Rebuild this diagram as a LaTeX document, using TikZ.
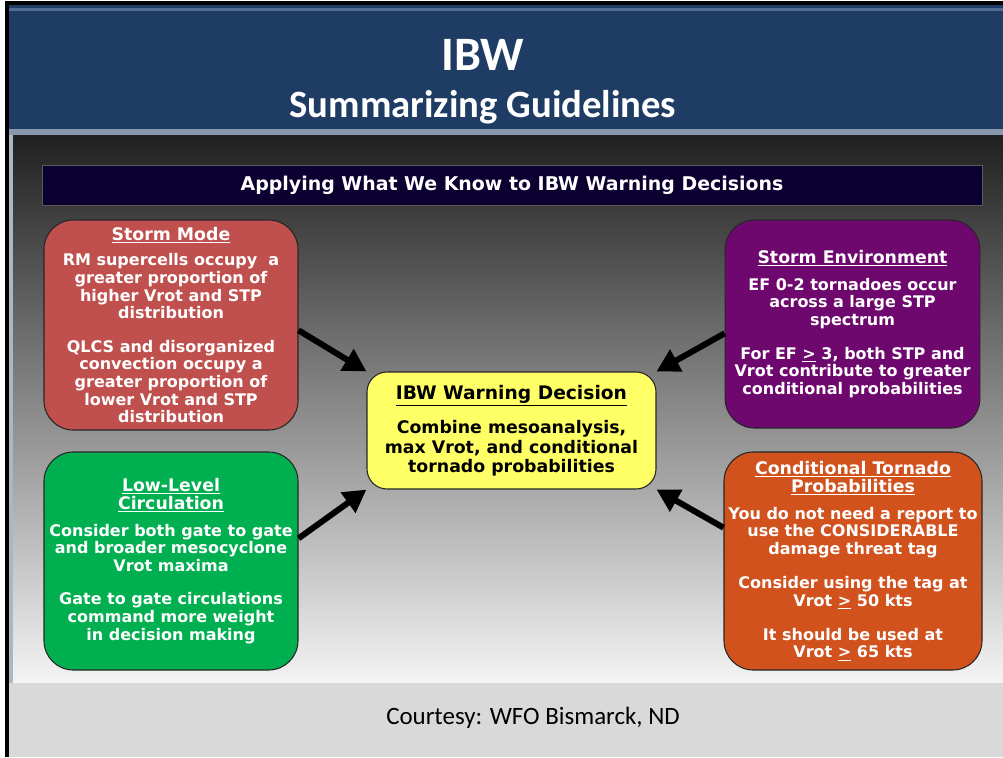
\documentclass[tikz,border=0pt]{standalone}
\usepackage{fontspec}
\setmainfont{DejaVu Sans}
\newfontfamily\slidefont{Carlito}
\usetikzlibrary{arrows.meta,positioning}
\definecolor{hdrblue}{RGB}{31,60,100}
\definecolor{hdrline}{RGB}{80,108,146}
\definecolor{hdredge}{RGB}{136,152,174}
\definecolor{bannerblue}{RGB}{11,0,48}
\definecolor{bgtop}{RGB}{32,32,32}
\definecolor{bgmid}{RGB}{158,158,158}
\definecolor{bgbot}{RGB}{244,244,244}
\definecolor{footgrey}{RGB}{217,217,217}
\definecolor{modered}{RGB}{192,80,77}
\definecolor{envpurple}{RGB}{110,8,110}
\definecolor{circgreen}{RGB}{0,176,80}
\definecolor{probrange}{RGB}{210,82,30}
\definecolor{decyellow}{RGB}{255,255,102}
\newcommand{\cardtitle}[1]{{\fontsize{13}{15}\selectfont\underline{#1}}}

\begin{document}
\begin{tikzpicture}[x=0.75pt, y=-0.75pt,
  card/.style={draw=black!85, line width=0.8pt, rounded corners=22pt, text=white, align=center,
    font=\bfseries\fontsize{12}{13.2}\selectfont, minimum width=190.5pt},
  push/.style={-{Triangle[length=17pt,width=18pt]}, line width=4.5pt, black}]
  \useasboundingbox (0,0) rectangle (1003,757);

  % Frame and slide background
  \fill[white] (0,0) rectangle (1003,757);
  \fill[black] (5,1) rectangle (1003,757);
  \fill[hdrblue] (9,5) rectangle (1003,129);
  \fill[hdrline] (9,8) rectangle (1003,11);
  \fill[hdredge] (9,129) rectangle (1003,135);
  \shade[top color=bgtop, middle color=bgmid, bottom color=bgbot] (9,135) rectangle (1003,683);
  \fill[hdredge!70] (9,135) rectangle (13,683);
  \fill[footgrey] (9,683) rectangle (1003,757);

  % Title
  \node[anchor=base, text=white, font=\slidefont\bfseries\fontsize{36}{40}\selectfont] (ibw) at (483,70) {IBW};
  \node[anchor=base, text=white, font=\slidefont\bfseries\fontsize{29}{33}\selectfont] (subtitle) at (483,117) {Summarizing Guidelines};

  % Banner
  \node[draw=gray!70!black, fill=bannerblue, text=white, minimum width=705pt, minimum height=30pt,
    font=\bfseries\fontsize{14.2}{16}\selectfont] (banner) at (512,185) {Applying What We Know to IBW Warning Decisions};

  % Storm mode
  \node[card, fill=modered, minimum height=157.5pt] (mode) at (171,325)
    {\cardtitle{Storm Mode}\\[6pt]
     RM supercells occupy\ \ a\\ greater proportion of\\ higher Vrot and STP\\ distribution\\[12pt]
     QLCS and disorganized\\ convection occupy a\\ greater proportion of\\ lower Vrot and STP\\ distribution};

  % Storm environment
  \node[card, fill=envpurple, minimum width=191pt, minimum height=156pt] (env) at (852.5,324)
    {\cardtitle{Storm Environment}\\[7pt]
     EF 0-2 tornadoes occur\\ across a large STP\\ spectrum\\[12pt]
     For EF \underline{>} 3, both STP and\\ Vrot contribute to greater\\ conditional probabilities};

  % Low-level circulation
  \node[card, fill=circgreen, minimum height=163.5pt] (circ) at (171,561)
    {\cardtitle{Low-Level}\\ \cardtitle{Circulation}\\[7pt]
     Consider both gate to gate\\ and broader mesocyclone\\ Vrot maxima\\[12pt]
     Gate to gate circulations\\ command more weight\\ in decision making};

  % Conditional tornado probabilities
  \node[card, fill=probrange, minimum height=163.5pt] (prob) at (853,561)
    {\cardtitle{Conditional Tornado}\\ \cardtitle{Probabilities}\\[7pt]
     You do not need a report to\\ use the CONSIDERABLE\\ damage threat tag\\[12.5pt]
     Consider using the tag at\\ Vrot \underline{>} 50 kts\\[12.5pt]
     It should be used at\\ Vrot \underline{>} 65 kts};

  % Warning decision
  \node[card, fill=decyellow, text=black, rounded corners=15pt, minimum width=216.75pt, minimum height=87.75pt,
    font=\bfseries\fontsize{13}{14.4}\selectfont] (dec) at (511.5,430.5)
    {{\fontsize{14}{16}\selectfont\underline{IBW Warning Decision}}\\[10pt]
     Combine mesoanalysis,\\ max Vrot, and conditional\\ tornado probabilities};

  % Arrows
  \draw[push] ([yshift=-4pt]mode.east) -- (dec.north west);
  \draw[push] ([yshift=-7pt]env.west) -- (dec.north east);
  \draw[push] ([yshift=17pt]circ.east) -- (dec.south west);
  \draw[push] ([yshift=25pt]prob.west) -- (dec.south east);

  % Footer
  \node[anchor=base, font=\slidefont\fontsize{18.7}{22}\selectfont] (credit) at (533,724) {Courtesy: WFO Bismarck, ND};
\end{tikzpicture}
\end{document}
